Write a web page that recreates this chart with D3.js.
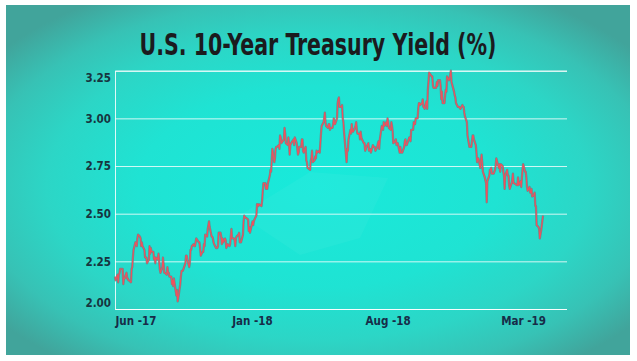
<!DOCTYPE html>
<html><head><meta charset="utf-8">
<script src="https://cdn.jsdelivr.net/npm/d3@7"></script>
<style>html,body{margin:0;padding:0;background:#fff;overflow:hidden}</style>
</head><body>
<svg id="c" width="637" height="361"></svg>
<script>
// ---------- data ----------
const title = "U.S. 10-Year Treasury Yield (%)";
const months = ["2017-06","2017-07","2017-08","2017-09","2017-10","2017-11","2017-12",
  "2018-01","2018-02","2018-03","2018-04","2018-05","2018-06","2018-07","2018-08","2018-09",
  "2018-10","2018-11","2018-12","2019-01","2019-02","2019-03","2019-04"];
const holidays = ["2017-07-04","2017-09-04","2017-10-09","2017-11-23","2017-12-25","2018-01-01",
  "2018-01-15","2018-02-19","2018-03-30","2018-05-28","2018-07-04","2018-09-03","2018-10-08",
  "2018-11-12","2018-11-22","2018-12-05","2018-12-25","2019-01-01","2019-01-21","2019-02-18"];
const jun17 = [2.17,2.15,2.18,2.14,2.18,2.19,2.21,2.21,2.21,2.13,2.16,2.16,2.19,2.16,2.16,2.15,2.15,2.14,2.21,2.22,2.27,2.31];
const jul17 = [2.35,2.33,2.37,2.39,2.38,2.37,2.33,2.35,2.33,2.31,2.27,2.27,2.27,2.24,2.26,2.33,2.29,2.32,2.30,2.30];
const aug17 = [2.26,2.27,2.24,2.27,2.26,2.29,2.25,2.21,2.19,2.22,2.27,2.23,2.19,2.19,2.18,2.22,2.19,2.19,2.17,2.17,2.13,2.15,2.12];
const sep17 = [2.16,2.07,2.10,2.04,2.06,2.13,2.17,2.20,2.20,2.20,2.23,2.24,2.28,2.28,2.26,2.22,2.24,2.31,2.31,2.33];
const oct17 = [2.34,2.33,2.33,2.35,2.37,2.35,2.35,2.32,2.28,2.30,2.30,2.34,2.33,2.39,2.38,2.42,2.44,2.46,2.43,2.38,2.38];
const nov17 = [2.37,2.35,2.34,2.32,2.32,2.32,2.33,2.40,2.40,2.38,2.34,2.37,2.35,2.37,2.36,2.32,2.34,2.33,2.34,2.38,2.42];
const dec17 = [2.37,2.37,2.36,2.33,2.37,2.38,2.39,2.40,2.35,2.35,2.35,2.39,2.46,2.49,2.48,2.48,2.47,2.41,2.43,2.40];
const jan18 = [2.46,2.44,2.46,2.47,2.49,2.55,2.55,2.54,2.55,2.54,2.57,2.62,2.66,2.66,2.63,2.65,2.63,2.66,2.70,2.73,2.72];
const feb18 = [2.78,2.84,2.77,2.79,2.84,2.85,2.85,2.86,2.84,2.91,2.90,2.87,2.89,2.95,2.92,2.87,2.86,2.90,2.87];
const mar18 = [2.81,2.86,2.88,2.88,2.89,2.86,2.90,2.87,2.84,2.81,2.82,2.85,2.85,2.89,2.89,2.83,2.82,2.85,2.78,2.77,2.74];
const apr18 = [2.73,2.78,2.79,2.83,2.77,2.78,2.80,2.79,2.83,2.82,2.83,2.82,2.87,2.92,2.96,2.98,3.00,3.03,2.98,2.96,2.95];
const may18 = [2.97,2.97,2.94,2.95,2.95,2.97,3.00,2.97,2.97,3.00,3.08,3.10,3.11,3.06,3.06,3.07,3.00,2.98,2.93,2.77,2.84,2.83];
const jun18 = [2.89,2.94,2.92,2.97,2.93,2.93,2.95,2.96,2.98,2.94,2.92,2.92,2.89,2.93,2.90,2.89,2.87,2.87,2.83,2.84,2.85];
const jul18 = [2.87,2.83,2.84,2.82,2.86,2.85,2.85,2.85,2.83,2.85,2.87,2.88,2.84,2.89,2.96,2.95,2.94,2.98,2.96,2.98,2.96];
const aug18 = [3.00,2.98,2.95,2.94,2.98,2.96,2.93,2.87,2.88,2.89,2.86,2.87,2.87,2.82,2.85,2.82,2.82,2.82,2.85,2.88,2.89,2.86,2.86];
const sep18 = [2.90,2.90,2.88,2.94,2.94,2.98,2.97,2.97,3.00,3.00,3.05,3.08,3.08,3.07,3.08,3.10,3.06,3.06,3.05];
const oct18 = [3.09,3.05,3.15,3.19,3.24,3.22,3.22,3.17,3.16,3.16,3.16,3.19,3.17,3.20,3.20,3.17,3.10,3.14,3.08,3.08,3.12,3.15];
const nov18 = [3.14,3.22,3.20,3.21,3.23,3.25,3.19,3.14,3.12,3.11,3.08,3.06,3.06,3.06,3.05,3.07,3.06,3.06,3.03,3.01];
const dec18 = [2.98,2.91,2.87,2.85,2.85,2.88,2.91,2.91,2.89,2.86,2.82,2.77,2.79,2.79,2.74,2.81,2.77,2.72,2.69];
const jan19 = [2.66,2.56,2.67,2.70,2.73,2.73,2.74,2.71,2.71,2.72,2.73,2.75,2.79,2.74,2.76,2.72,2.76,2.75,2.72,2.70,2.63];
const feb19 = [2.70,2.73,2.70,2.70,2.65,2.63,2.66,2.68,2.71,2.66,2.66,2.65,2.65,2.69,2.65,2.67,2.64,2.69,2.73];
const mar19 = [2.76,2.72,2.72,2.69,2.64,2.62,2.64,2.61,2.61,2.63,2.59,2.60,2.61,2.54,2.54,2.44,2.43,2.42,2.37,2.39,2.41];
const apr19 = [2.49];
const monthlyYields = [jun17,jul17,aug17,sep17,oct17,nov17,dec17,jan18,feb18,mar18,apr18,may18,
  jun18,jul18,aug18,sep18,oct18,nov18,dec18,jan19,feb19,mar19,apr19];
const yTicks = [2.00, 2.25, 2.50, 2.75, 3.00, 3.25];
const xTickDates = ["2017-06-01","2018-01-01","2018-08-01","2019-03-01"];
const xTickLabels = ["Jun -17","Jan -18","Aug -18","Mar -19"];

// ---------- build points ----------
const parse = d3.timeParse("%Y-%m-%d");
const fmt = d3.timeFormat("%Y-%m-%d");
const holidaySet = new Set(holidays);
const points = [];
months.forEach((ym, mi) => {
  const [yy, mm] = ym.split("-").map(Number);
  const days = [];
  for (let d = 1; d <= 31; d++) {
    const dt = new Date(yy, mm - 1, d);
    if (dt.getMonth() !== mm - 1) break;
    const wd = dt.getDay();
    if (wd === 0 || wd === 6 || holidaySet.has(fmt(dt))) continue;
    days.push(dt);
  }
  const vals = monthlyYields[mi];
  vals.forEach((v, i) => {
    let dt;
    if (vals.length <= days.length) dt = days[i];
    else {
      const s = new Date(yy, mm - 1, 1), e = new Date(yy, mm, 1);
      dt = new Date(+s + (i + 0.5) / vals.length * (e - s));
    }
    points.push({date: dt, value: v});
  });
});

// ---------- layout ----------
const W = 637, H = 361;
const plotL = 115, plotR = 567, plotTop = 70.7, plotBot = 309;
const svg = d3.select("#c");
const defs = svg.append("defs");
const rg = defs.append("radialGradient").attr("id", "bg")
  .attr("cx", "50%").attr("cy", "52%").attr("r", "64%");
rg.append("stop").attr("offset", "0%").attr("stop-color", "#18eadb");
rg.append("stop").attr("offset", "45%").attr("stop-color", "#1fe3d3");
rg.append("stop").attr("offset", "68%").attr("stop-color", "#2cd6c6");
rg.append("stop").attr("offset", "85%").attr("stop-color", "#37c2b5");
rg.append("stop").attr("offset", "100%").attr("stop-color", "#41a49b");

svg.append("rect").attr("width", W).attr("height", H).attr("fill", "#ffffff");
svg.append("rect").attr("x", 6).attr("y", 5).attr("width", 624).attr("height", 350)
  .attr("fill", "url(#bg)");
// faint diamond highlight in the background
svg.append("path").attr("d", "M240,215 L310,172 L388,178 L360,238 L300,255 Z")
  .attr("fill", "#ffffff").attr("opacity", 0.04);

// title
svg.append("text").attr("x", 318).attr("y", 55)
  .attr("text-anchor", "middle")
  .attr("textLength", 357).attr("lengthAdjust", "spacingAndGlyphs")
  .style("font-family", "'Liberation Sans Narrow','DejaVu Sans Condensed','Roboto Condensed',sans-serif")
  .style("font-stretch", "condensed")
  .style("font-weight", "bold").style("font-size", "30px").attr("fill", "#1b1b1e")
  .text(title);

// scales
const x = d3.scaleTime().domain([parse("2017-06-01"), parse("2019-04-01")]).range([115, 543]);
const y = d3.scaleLinear().domain([2.0, 3.25]).range([plotBot, plotTop]);

// y axis with gridlines
const yAxis = d3.axisLeft(y).tickValues(yTicks).tickFormat(d3.format(".2f"))
  .tickSize(-(plotR - plotL)).tickPadding(4);
const gy = svg.append("g").attr("transform", `translate(${plotL},0)`).call(yAxis);
gy.select(".domain").attr("stroke", "rgba(255,255,255,0.85)").attr("stroke-width", 1);
gy.selectAll(".tick line").attr("stroke", "rgba(255,255,255,0.8)").attr("stroke-width", 1);
gy.selectAll(".tick text")
  .style("font-family", "'Liberation Sans Narrow','DejaVu Sans Condensed',sans-serif")
  .style("font-weight", "bold").style("font-size", "11.5px").attr("fill", "#173540")
  .attr("dy", d => d === 3.25 ? "0.9em" : (d === 2.0 ? "-0.2em" : "0.32em"));

// x axis labels
const xAxis = d3.axisBottom(x).tickValues(xTickDates.map(parse))
  .tickFormat((d, i) => xTickLabels[i]).tickSize(0).tickPadding(8);
const gx = svg.append("g").attr("transform", `translate(0,${plotBot})`).call(xAxis);
gx.select(".domain").remove();
gx.selectAll(".tick text")
  .style("font-family", "'Liberation Sans Narrow','DejaVu Sans Condensed',sans-serif")
  .style("font-weight", "bold").style("font-size", "11.5px").attr("fill", "#172c48")
  .attr("text-anchor", (d, i) => i === 0 ? "start" : "middle");

// line
const line = d3.line().x(d => x(d.date)).y(d => y(d.value));
svg.append("path").datum(points).attr("d", line).attr("fill", "none")
  .attr("stroke", "#7c7078").attr("stroke-width", 2.3).attr("stroke-opacity", 0.7)
  .attr("stroke-linejoin", "round");
svg.append("path").datum(points).attr("d", line).attr("fill", "none")
  .attr("stroke", "#f2505c").attr("stroke-width", 1.1).attr("stroke-linejoin", "round");
</script>
</body></html>
